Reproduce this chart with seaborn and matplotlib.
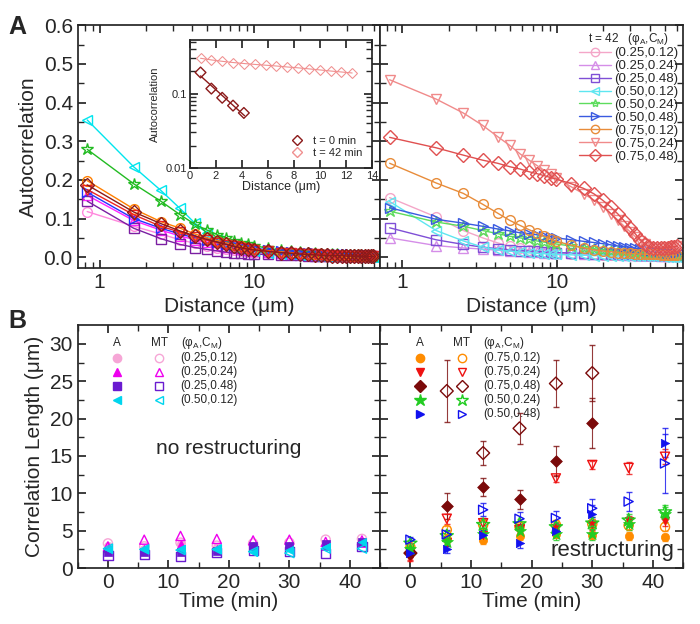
import numpy as np
import pandas as pd
import matplotlib
matplotlib.use("Agg")
import matplotlib.pyplot as plt
import seaborn as sns
from matplotlib.lines import Line2D

sns.set_theme(style="ticks")
plt.rcParams['font.family'] = ['Liberation Sans', 'DejaVu Sans']
plt.rcParams['mathtext.fontset'] = 'custom'
plt.rcParams['mathtext.rm'] = 'Liberation Sans'
plt.rcParams['mathtext.it'] = 'Liberation Sans'

labels = ["(0.25,0.12)", "(0.25,0.24)", "(0.25,0.48)", "(0.50,0.12)", "(0.50,0.24)",
          "(0.50,0.48)", "(0.75,0.12)", "(0.75,0.24)", "(0.75,0.48)"]
markers = ["o", "^", "s", "<", "*", ">", "o", "v", "D"]
colors_t0 = ["#ff88dd", "#ff22ff", "#7b1fa2", "#00e5ee", "#22bb22", "#2233ff", "#ff7f00", "#ee2222", "#8b1a1a"]
colors_t42 = ["#f4a6c8", "#d58ee8", "#7f4fd6", "#5ee6f0", "#5ddc5d", "#3a5ae0", "#e88c3a", "#f08a8a", "#e05050"]

distance = [0.83, 1.66, 2.49, 3.32, 4.15, 4.98, 5.81, 6.64, 7.47, 8.3, 9.13, 9.96,
            12.45, 14.94, 17.43, 19.92, 22.41, 24.9, 27.39, 29.88, 32.37, 34.86,
            37.35, 39.84, 42.33, 44.82, 47.31, 49.8, 52.29, 54.78, 57.27, 59.76]

ac_t0 = [
    [0.118, 0.080, 0.060, 0.045, 0.036, 0.030, 0.025, 0.021, 0.018, 0.016, 0.014, 0.012, 0.010, 0.009, 0.008, 0.007, 0.006, 0.006, 0.005, 0.005, 0.005, 0.004, 0.004, 0.004, 0.004, 0.003, 0.003, 0.003, 0.003, 0.003, 0.003, 0.003],
    [0.160, 0.095, 0.070, 0.055, 0.045, 0.038, 0.032, 0.027, 0.023, 0.020, 0.018, 0.016, 0.013, 0.011, 0.009, 0.008, 0.007, 0.006, 0.006, 0.005, 0.005, 0.005, 0.004, 0.004, 0.004, 0.004, 0.003, 0.003, 0.003, 0.003, 0.003, 0.003],
    [0.145, 0.075, 0.048, 0.033, 0.025, 0.020, 0.016, 0.013, 0.011, 0.010, 0.009, 0.008, 0.007, 0.006, 0.005, 0.005, 0.004, 0.004, 0.004, 0.003, 0.003, 0.003, 0.003, 0.003, 0.002, 0.002, 0.002, 0.002, 0.002, 0.002, 0.002, 0.002],
    [0.355, 0.234, 0.173, 0.126, 0.088, 0.062, 0.045, 0.034, 0.027, 0.022, 0.018, 0.015, 0.011, 0.009, 0.007, 0.006, 0.005, 0.004, 0.004, 0.003, 0.003, 0.003, 0.002, 0.002, 0.002, 0.002, 0.002, 0.002, 0.001, 0.001, 0.001, 0.001],
    [0.279, 0.190, 0.145, 0.110, 0.085, 0.070, 0.058, 0.050, 0.043, 0.037, 0.033, 0.030, 0.023, 0.018, 0.015, 0.013, 0.011, 0.010, 0.009, 0.008, 0.007, 0.007, 0.006, 0.006, 0.005, 0.005, 0.005, 0.005, 0.004, 0.004, 0.004, 0.004],
    [0.168, 0.100, 0.075, 0.060, 0.050, 0.045, 0.040, 0.035, 0.031, 0.028, 0.025, 0.023, 0.019, 0.016, 0.014, 0.012, 0.011, 0.010, 0.009, 0.009, 0.008, 0.008, 0.007, 0.007, 0.007, 0.006, 0.006, 0.006, 0.006, 0.006, 0.005, 0.005],
    [0.198, 0.125, 0.092, 0.075, 0.060, 0.050, 0.043, 0.037, 0.032, 0.028, 0.025, 0.022, 0.017, 0.014, 0.012, 0.010, 0.009, 0.008, 0.007, 0.006, 0.006, 0.005, 0.005, 0.005, 0.004, 0.004, 0.004, 0.004, 0.003, 0.003, 0.003, 0.003],
    [0.175, 0.110, 0.080, 0.065, 0.053, 0.044, 0.037, 0.032, 0.028, 0.024, 0.021, 0.019, 0.015, 0.012, 0.010, 0.009, 0.008, 0.007, 0.006, 0.005, 0.005, 0.004, 0.004, 0.004, 0.003, 0.003, 0.003, 0.003, 0.003, 0.002, 0.002, 0.002],
    [0.187, 0.117, 0.087, 0.068, 0.055, 0.046, 0.039, 0.033, 0.028, 0.024, 0.021, 0.019, 0.015, 0.012, 0.010, 0.008, 0.007, 0.006, 0.005, 0.005, 0.004, 0.004, 0.004, 0.003, 0.003, 0.003, 0.003, 0.002, 0.002, 0.002, 0.002, 0.002],
]

ac_t42 = [
    [0.154, 0.104, 0.069, 0.050, 0.037, 0.028, 0.023, 0.019, 0.016, 0.014, 0.012, 0.011, 0.009, 0.008, 0.007, 0.006, 0.006, 0.005, 0.005, 0.005, 0.004, 0.004, 0.004, 0.004, 0.004, 0.003, 0.003, 0.003, 0.003, 0.003, 0.003, 0.003],
    [0.050, 0.030, 0.024, 0.021, 0.018, 0.016, 0.015, 0.014, 0.013, 0.012, 0.011, 0.011, 0.010, 0.009, 0.008, 0.008, 0.007, 0.007, 0.006, 0.006, 0.006, 0.005, 0.005, 0.005, 0.005, 0.005, 0.004, 0.004, 0.004, 0.004, 0.004, 0.004],
    [0.076, 0.045, 0.033, 0.026, 0.022, 0.019, 0.017, 0.016, 0.015, 0.014, 0.013, 0.012, 0.011, 0.010, 0.009, 0.009, 0.008, 0.008, 0.007, 0.007, 0.007, 0.006, 0.006, 0.006, 0.006, 0.005, 0.005, 0.005, 0.005, 0.005, 0.005, 0.005],
    [0.144, 0.069, 0.042, 0.026, 0.019, 0.016, 0.013, 0.011, 0.010, 0.009, 0.008, 0.007, 0.006, 0.005, 0.004, 0.004, 0.003, 0.003, 0.003, 0.003, 0.002, 0.002, 0.002, 0.002, 0.002, 0.002, 0.002, 0.001, 0.001, 0.001, 0.001, 0.001],
    [0.119, 0.091, 0.080, 0.069, 0.061, 0.054, 0.050, 0.046, 0.042, 0.039, 0.036, 0.034, 0.029, 0.025, 0.022, 0.019, 0.017, 0.015, 0.013, 0.012, 0.011, 0.010, 0.009, 0.008, 0.008, 0.007, 0.007, 0.006, 0.006, 0.006, 0.005, 0.005],
    [0.128, 0.098, 0.088, 0.080, 0.073, 0.068, 0.063, 0.061, 0.058, 0.055, 0.053, 0.050, 0.045, 0.041, 0.038, 0.035, 0.032, 0.029, 0.027, 0.025, 0.023, 0.021, 0.019, 0.017, 0.015, 0.014, 0.013, 0.012, 0.011, 0.011, 0.010, 0.010],
    [0.243, 0.192, 0.165, 0.137, 0.114, 0.095, 0.082, 0.071, 0.062, 0.054, 0.047, 0.041, 0.031, 0.024, 0.019, 0.016, 0.014, 0.012, 0.011, 0.010, 0.009, 0.008, 0.008, 0.007, 0.007, 0.007, 0.006, 0.006, 0.006, 0.006, 0.006, 0.006],
    [0.459, 0.409, 0.373, 0.341, 0.312, 0.289, 0.267, 0.251, 0.237, 0.225, 0.215, 0.204, 0.182, 0.164, 0.148, 0.130, 0.113, 0.096, 0.080, 0.066, 0.053, 0.042, 0.033, 0.027, 0.025, 0.024, 0.024, 0.025, 0.026, 0.027, 0.028, 0.029],
    [0.310, 0.283, 0.264, 0.251, 0.243, 0.234, 0.228, 0.221, 0.216, 0.211, 0.206, 0.202, 0.190, 0.178, 0.164, 0.147, 0.130, 0.112, 0.094, 0.076, 0.060, 0.045, 0.034, 0.027, 0.024, 0.023, 0.023, 0.024, 0.025, 0.026, 0.027, 0.028],
]

inset_x0 = [0.83, 1.66, 2.49, 3.32, 4.15]
inset_y0 = [0.193, 0.117, 0.088, 0.069, 0.055]
inset_x42 = [0.83, 1.66, 2.49, 3.32, 4.15, 4.98, 5.81, 6.64, 7.47, 8.3, 9.13, 9.96, 10.79, 11.62, 12.45]
inset_y42 = [0.30, 0.285, 0.273, 0.263, 0.255, 0.248, 0.242, 0.236, 0.229, 0.223, 0.216, 0.209, 0.202, 0.196, 0.190]

times = [0, 6, 12, 18, 24, 30, 36, 42]
nr_labels = ["(0.25,0.12)", "(0.25,0.24)", "(0.25,0.48)", "(0.50,0.12)"]
nr_markers = ["o", "^", "s", "<"]
nr_colors = ["#f6a6d6", "#ee00ee", "#6a1bd0", "#00d5ee"]
nr_A = [[3.0, 2.6, 3.2, 2.8, 3.0, 3.0, 3.2, 3.5],
        [2.7, 2.5, 3.2, 2.6, 3.0, 3.0, 2.9, 3.3],
        [2.2, 2.2, 2.2, 2.3, 2.9, 3.0, 3.2, 3.5],
        [2.5, 2.6, 2.6, 2.6, 2.1, 2.4, 2.8, 3.5]]
nr_MT = [[3.3, 2.9, 3.4, 3.0, 3.3, 3.4, 3.8, 3.9],
         [2.9, 3.8, 4.3, 3.9, 3.7, 3.8, 3.5, 3.7],
         [1.7, 1.8, 1.6, 2.1, 2.4, 2.2, 2.0, 2.9],
         [2.6, 2.5, 2.4, 2.5, 2.2, 2.0, 2.6, 2.6]]

r_labels = ["(0.75,0.12)", "(0.75,0.24)", "(0.75,0.48)", "(0.50,0.24)", "(0.50,0.48)"]
r_markers = ["o", "v", "D", "*", ">"]
r_colors = ["#ff8c00", "#ee1111", "#7b0a0a", "#22cc22", "#1111ee"]
r_A = [[2.5, 3.9, 3.7, 4.3, 4.5, 4.4, 4.3, 4.1],
       [1.3, 3.5, 4.4, 5.3, 5.3, 5.8, 6.3, 6.3],
       [2.0, 8.3, 10.8, 9.2, 14.3, 19.4, np.nan, np.nan],
       [2.5, 3.5, 4.5, 5.0, 4.5, 4.5, 5.9, 7.2],
       [2.0, 2.5, 4.4, 3.4, 5.0, 7.3, np.nan, 16.8]]
r_A_err = [[0.4, 0.5, 0.5, 0.5, 0.5, 0.5, 0.5, 0.5],
           [0.4, 0.6, 0.6, 0.6, 0.7, 0.7, 0.7, 0.7],
           [0.5, 1.8, 1.2, 1.3, 2.0, 3.3, 0, 0],
           [0.4, 0.6, 0.7, 0.7, 0.7, 0.7, 0.8, 1.0],
           [0.4, 0.5, 0.7, 0.7, 0.9, 1.2, 0, 2.0]]
r_MT = [[2.8, 5.1, 5.8, 5.5, 5.8, 5.9, 5.7, 5.5],
        [1.5, 6.6, 6.0, 5.1, 12.0, 13.8, 13.4, 14.9],
        [2.0, 23.7, 15.4, 18.7, 24.7, 26.1, np.nan, np.nan],
        [3.3, 4.3, 5.8, 5.9, 5.5, 6.0, 6.4, 7.5],
        [3.8, 4.5, 7.8, 6.6, 6.7, 8.0, 8.9, 14.0]]
r_MT_err = [[0.4, 0.5, 0.6, 0.6, 0.6, 0.6, 0.6, 0.6],
            [0.4, 0.7, 0.7, 0.7, 0.5, 0.5, 0.8, 1.0],
            [0.5, 4.2, 1.6, 2.1, 3.2, 3.8, 0, 0],
            [0.4, 0.6, 0.7, 0.7, 0.7, 0.8, 0.8, 1.0],
            [0.4, 0.6, 0.9, 0.9, 1.0, 1.2, 1.3, 4.0]]

fig = plt.figure(figsize=(7.0, 6.24), dpi=100)
axA1 = fig.add_axes([0.111, 0.5705, 0.432, 0.389])
axA2 = fig.add_axes([0.543, 0.5705, 0.433, 0.389])
axB1 = fig.add_axes([0.111, 0.0897, 0.432, 0.389])
axB2 = fig.add_axes([0.543, 0.0897, 0.433, 0.389])
axIn = fig.add_axes([0.271, 0.731, 0.261, 0.205])

def draw_curves(ax, data, cols, ms):
    for i in range(9):
        df = pd.DataFrame({"d": distance, "ac": data[i]})
        sns.lineplot(data=df, x="d", y="ac", ax=ax, color=cols[i], marker=markers[i],
                     markersize=ms if markers[i] != "*" else ms + 2, markerfacecolor="none",
                     markeredgecolor=cols[i], markeredgewidth=1.0, linewidth=1.0, label=labels[i])

draw_curves(axA1, ac_t0, colors_t0, 7)
draw_curves(axA2, ac_t42, colors_t42, 7)
for ax in (axA1, axA2):
    ax.set_xscale("log")
    ax.set_xlim(0.72, 66)
    ax.set_ylim(-0.028, 0.6)
    ax.set_xticks([1, 10])
    ax.set_xticklabels(["1", "10"])
    ax.set_xlabel("Distance (μm)", fontsize=15)
    ax.tick_params(labelsize=15, direction="in", which="both", top=True, right=True)
    ax.set_yticks(np.arange(0, 0.61, 0.1))
    ax.set_yticks(np.arange(0, 0.61, 0.05), minor=True)
axA1.set_ylabel("Autocorrelation", fontsize=15)
axA1.set_yticklabels([f"{v:.1f}" for v in np.arange(0, 0.61, 0.1)])
axA1.get_legend().remove()
axA2.set_ylabel("")
axA2.set_yticklabels([])
leg = axA2.legend(loc="upper right", fontsize=9.5, frameon=False, handlelength=2.4,
                  borderpad=0.2, labelspacing=0.05, handletextpad=0.2, borderaxespad=0.2,
                  title="t = 42   ($\\varphi_A$,C$_M$)", title_fontsize=8.5)
for h in leg.legend_handles:
    h.set_markersize(6)

# inset
sns.lineplot(x=inset_x42, y=inset_y42, ax=axIn, marker="D", color="#f09090", markerfacecolor="none",
             markeredgecolor="#f09090", linewidth=0.8, markersize=5, label="t = 42 min")
sns.scatterplot(x=inset_x0, y=inset_y0, ax=axIn, marker="D", facecolor="none",
                edgecolor="#8b1a1a", s=30, linewidth=1, label="t = 0 min")
p = np.polyfit(inset_x0, np.log(inset_y0), 1)
fx = np.array([0.83, 4.2])
axIn.plot(fx, np.exp(np.polyval(p, fx)), color="#8b1a1a", lw=1)
axIn.set_yscale("log")
axIn.set_xlim(0, 14)
axIn.set_ylim(0.01, 0.53)
axIn.set_xticks(range(0, 15, 2))
axIn.set_yticks([0.01, 0.1])
axIn.set_yticklabels(["0.01", "0.1"])
axIn.set_xlabel("Distance (μm)", fontsize=9, labelpad=0)
axIn.set_ylabel("Autocorrelation", fontsize=8)
axIn.tick_params(labelsize=8, direction="in", which="both", top=True, right=True, pad=2)
h0 = Line2D([], [], marker="D", ls="none", mfc="none", mec="#8b1a1a", ms=5)
h42 = Line2D([], [], marker="D", ls="none", mfc="none", mec="#f09090", ms=5)
axIn.legend([h0, h42], ["t = 0 min", "t = 42 min"], loc="lower right", fontsize=8,
            frameon=False, handletextpad=0.4, labelspacing=0.2)

# bottom panels
def draw_points(ax, labs, mks, cols, A, MT, Aerr=None, MTerr=None):
    for i in range(len(labs)):
        ms = 9 if mks[i] == "*" else 6
        if Aerr is not None:
            ax.errorbar(times, A[i], yerr=Aerr[i], fmt="none", ecolor=cols[i], elinewidth=0.8, capsize=2, alpha=0.8)
            ax.errorbar(times, MT[i], yerr=MTerr[i], fmt="none", ecolor=cols[i], elinewidth=0.8, capsize=2, alpha=0.8)
        sns.scatterplot(x=times, y=A[i], ax=ax, marker=mks[i], color=cols[i], edgecolor=cols[i],
                        s=ms ** 2, linewidth=0.5, zorder=3)
        sns.scatterplot(x=times, y=MT[i], ax=ax, marker=mks[i], facecolor="none", edgecolor=cols[i],
                        s=ms ** 2 * 1.2, linewidth=1.0, zorder=3)
    for j, (l, m, c) in enumerate(zip(labs, mks, cols)):
        y = 0.865 - j * 0.058
        ms = 9 if m == "*" else 6
        ax.plot([0.13], [y], transform=ax.transAxes, marker=m, color=c, ms=ms, ls="none", clip_on=False)
        ax.plot([0.27], [y], transform=ax.transAxes, marker=m, mfc="none", mec=c, ms=ms, ls="none", clip_on=False)
        ax.text(0.34, y, l, transform=ax.transAxes, fontsize=8.5, va="center")
    ax.text(0.13, 0.925, "A", transform=ax.transAxes, fontsize=8.5, ha="center", va="center")
    ax.text(0.27, 0.925, "MT", transform=ax.transAxes, fontsize=8.5, ha="center", va="center")
    ax.text(0.34, 0.925, "($\\varphi_A$,C$_M$)", transform=ax.transAxes, fontsize=8.5, va="center")
    ax.set_xlim(-5, 45)
    ax.set_ylim(0, 32.5)
    ax.set_xticks(range(0, 41, 10))
    ax.set_xticks(range(-5, 46, 5), minor=True)
    ax.set_yticks(range(0, 31, 5))
    ax.set_yticks(np.arange(0, 32.5, 2.5), minor=True)
    ax.set_xlabel("Time (min)", fontsize=15, labelpad=0)
    ax.tick_params(labelsize=15, direction="in", which="both", top=True, right=True)

draw_points(axB1, nr_labels, nr_markers, nr_colors, nr_A, nr_MT)
draw_points(axB2, r_labels, r_markers, r_colors, r_A, r_MT, r_A_err, r_MT_err)
axB1.set_ylabel("Correlation Length (μm)", fontsize=15)
axB2.set_yticklabels([])
axB1.text(0.5, 0.47, "no restructuring", transform=axB1.transAxes, fontsize=15, ha="center")
axB2.text(0.97, 0.05, "restructuring", transform=axB2.transAxes, fontsize=16, ha="right")

fig.text(0.012, 0.945, "A", fontsize=18, fontweight="bold")
fig.text(0.012, 0.475, "B", fontsize=18, fontweight="bold")

fig.savefig("out.png", dpi=100)
